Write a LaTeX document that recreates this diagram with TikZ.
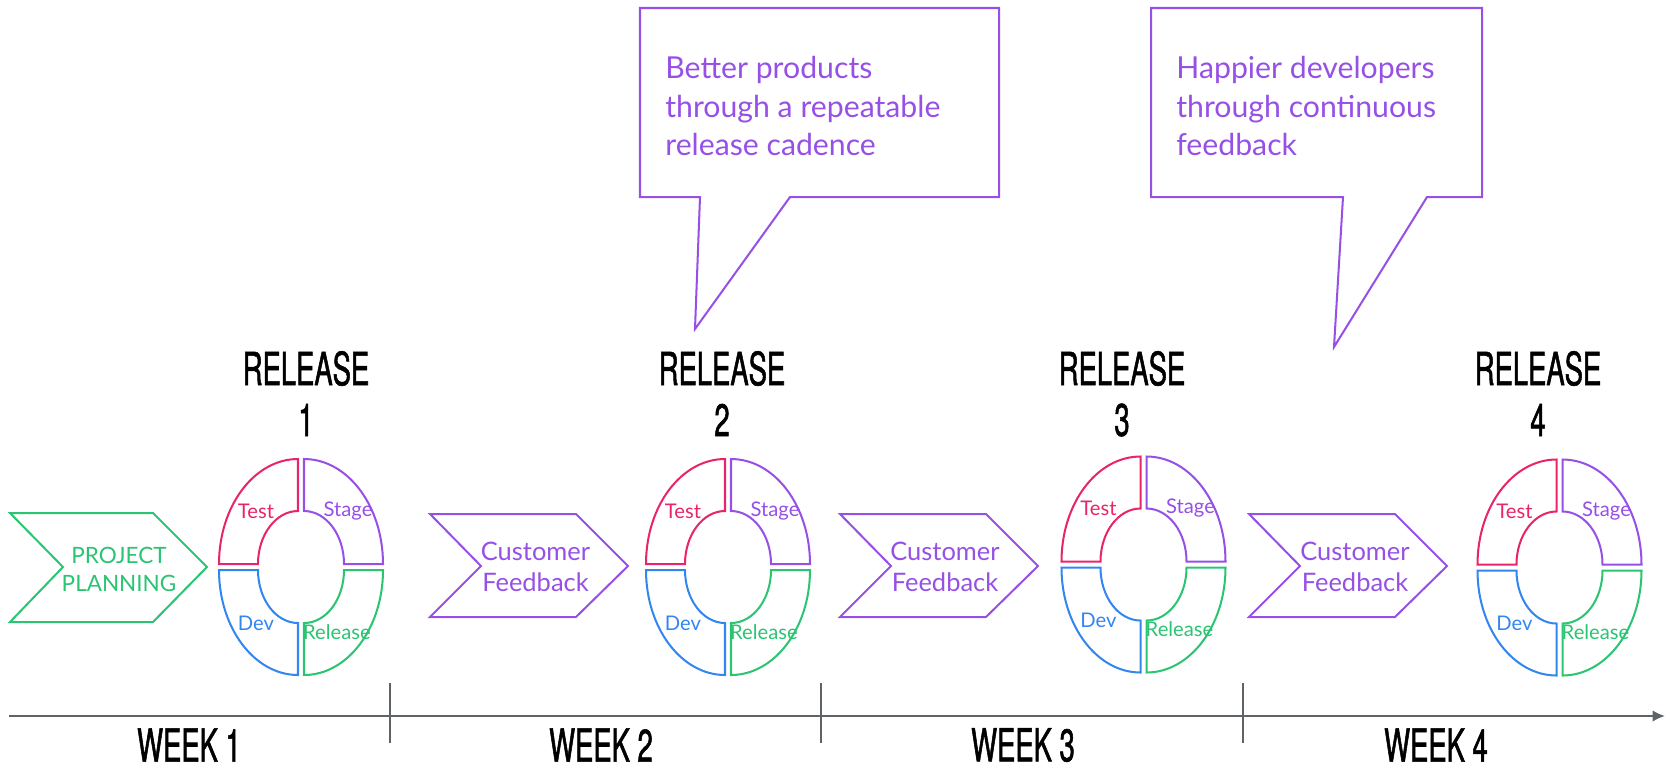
\documentclass[tikz,border=0pt]{standalone}
\usepackage{fontspec}
\setmainfont{Lato}
\newfontfamily\condfont[FakeStretch=0.6,FakeBold=1.2]{TeX Gyre Heros}
\usetikzlibrary{arrows.meta}
\definecolor{ctest}{HTML}{E8246A}
\definecolor{cstage}{HTML}{9650E6}
\definecolor{cdev}{HTML}{3385F0}
\definecolor{crel}{HTML}{2BC472}
\definecolor{cpurple}{HTML}{9650E6}
\definecolor{caxis}{HTML}{5F6368}
\tikzset{
  shapeline/.style={line width=1.15pt, line join=miter},
  quadlabel/.style={font=\fontsize{11.5}{13}\selectfont, inner sep=0pt},
  bigtitle/.style={font=\condfont\fontsize{26}{30}\selectfont, inner sep=0pt, text=black},
  chevtext/.style={font=\fontsize{14.5}{17.6}\selectfont, align=center, inner sep=0pt, text=cpurple},
  calltext/.style={font=\fontsize{17.2}{21.8}\selectfont, align=left, inner sep=0pt, anchor=west, text=cpurple},
}
\begin{document}
\begin{tikzpicture}[x=0.02cm,y=-0.02cm]
\useasboundingbox (0,0) rectangle (1667,769);

% callouts
\draw[shapeline, cpurple] (640,8) -- (999,8) -- (999,197) -- (790,197) -- (695,329) -- (700,197) -- (640,197) -- cycle;
\node[calltext] (call1) at (665,106) {Better products\\through a repeatable\\release cadence};
\draw[shapeline, cpurple] (1151,8) -- (1482,8) -- (1482,197) -- (1427,197) -- (1334,347) -- (1343,197) -- (1151,197) -- cycle;
\node[calltext] (call2) at (1176,106) {Happier developers\\through continuous\\feedback};

% release titles
\foreach \i/\x in {1/306,2/722,3/1122,4/1538}{
  \node[bigtitle] (rel\i) at (\x,368.5) {RELEASE};
  \node[bigtitle] (num\i) at (\x,420) {\i};
}

% chevrons
\draw[shapeline, crel] (10,513) -- (153,513) -- (207,567) -- (153,622) -- (10,622) -- (63,567) -- cycle;
\node[chevtext, text=crel, font=\fontsize{12.8}{16}\selectfont] (plan) at (119,569) {PROJECT\\PLANNING};
\foreach \i/\x/\t in {2/430/535.5,3/840/945,4/1249/1355}{
  \draw[shapeline, cpurple] (\x,514) -- ({\x+146},514) -- ({\x+198},566) -- ({\x+146},617) -- (\x,617) -- ({\x+51},566) -- cycle;
  \node[chevtext] (fb\i) at (\t,566.5) {Customer\\Feedback};
}

% rings
\foreach \i/\cx/\cy in {1/301/567,2/728/567,3/1143.5/564.5,4/1559.5/567.5}{
  % Test (top-left)
  \draw[shapeline, ctest] ({\cx-3-79},{\cy-3}) arc[start angle=180,end angle=270,x radius=79,y radius=105]
     -- ++(0,52) arc[start angle=270,end angle=180,x radius=40,y radius=53] -- cycle;
  % Stage (top-right)
  \draw[shapeline, cstage] ({\cx+3},{\cy-3-105}) arc[start angle=270,end angle=360,x radius=79,y radius=105]
     -- ++(-39,0) arc[start angle=0,end angle=-90,x radius=40,y radius=53] -- cycle;
  % Release (bottom-right)
  \draw[shapeline, crel] ({\cx+3+79},{\cy+3}) arc[start angle=0,end angle=90,x radius=79,y radius=105]
     -- ++(0,-52) arc[start angle=90,end angle=0,x radius=40,y radius=53] -- cycle;
  % Dev (bottom-left)
  \draw[shapeline, cdev] ({\cx-3},{\cy+3+105}) arc[start angle=90,end angle=180,x radius=79,y radius=105]
     -- ++(39,0) arc[start angle=180,end angle=90,x radius=40,y radius=53] -- cycle;
  \node[quadlabel, text=ctest] (test\i) at ({\cx-45},{\cy-56}) {Test};
  \node[quadlabel, text=cstage] (stage\i) at ({\cx+47},{\cy-56}) {Stage};
  \node[quadlabel, text=cdev] (dev\i) at ({\cx-45},{\cy+56}) {Dev};
  \node[quadlabel, text=crel] (release\i) at ({\cx+36},{\cy+65}) {Release};
}

% timeline
\coordinate (tlstart) at (9,716);
\coordinate (tlend) at (1665,716);
\draw[line width=1.15pt, caxis, -{Latex[length=7pt,width=6.5pt]}] (tlstart) -- (tlend);
\foreach \k/\x in {1/390,2/821,3/1243}{
  \coordinate (tka\k) at (\x,683);
  \coordinate (tkb\k) at (\x,743);
  \draw[line width=1.15pt, caxis] (tka\k) -- (tkb\k);
}
\foreach \k/\x in {1/189,2/601,3/1023,4/1436}{
  \node[bigtitle] (week\k) at (\x,745) {WEEK \k};
}
\end{tikzpicture}
\end{document}
